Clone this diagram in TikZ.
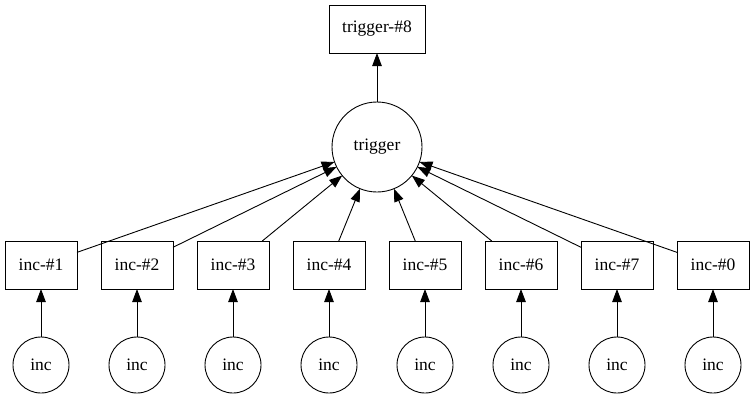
\documentclass[tikz,border=0pt]{standalone}
\usepackage{fontspec}
\setmainfont{Liberation Serif}
\usepackage{tikz}
\usetikzlibrary{shapes,arrows.meta,positioning}

\begin{document}
\begin{tikzpicture}[x=1pt, y=1pt, node distance=24pt, line width=0.9pt]
        \tikzstyle{block} = [rectangle, draw, text centered, minimum width=72pt, minimum height=48pt, inner sep=0pt, outer sep=0pt, font=\fontsize{17.5}{20}\selectfont]
        \tikzstyle{state} = [circle, draw, text centered, minimum size=56pt, inner sep=0pt, outer sep=0pt, font=\fontsize{17.5}{20}\selectfont]
        \tikzstyle{line} = [draw, -{Triangle[length=13pt, width=9.5pt]}]
        \useasboundingbox (0,0) rectangle (755,400);

        \node [block, minimum width=96pt] (trig8) at (377,371) {trigger-\#8};
        \node [state, minimum size=90pt] (trig) at (377,253) {trigger};

        \node [block] (inc1) at (41,135) {inc-\#1};
        \node [block, right=of inc1] (inc2) {inc-\#2};
        \node [block, right=of inc2] (inc3) {inc-\#3};
        \node [block, right=of inc3] (inc4) {inc-\#4};
        \node [block, right=of inc4] (inc5) {inc-\#5};
        \node [block, right=of inc5] (inc6) {inc-\#6};
        \node [block, right=of inc6] (inc7) {inc-\#7};
        \node [block, right=of inc7] (inc0) {inc-\#0};

        \node [state, below=48pt of inc1] (src1) {inc};
        \node [state, below=48pt of inc2] (src2) {inc};
        \node [state, below=48pt of inc3] (src3) {inc};
        \node [state, below=48pt of inc4] (src4) {inc};
        \node [state, below=48pt of inc5] (src5) {inc};
        \node [state, below=48pt of inc6] (src6) {inc};
        \node [state, below=48pt of inc7] (src7) {inc};
        \node [state, below=48pt of inc0] (src0) {inc};

        % sources to counters
        \path [line] (src1) -- (inc1);
        \path [line] (src2) -- (inc2);
        \path [line] (src3) -- (inc3);
        \path [line] (src4) -- (inc4);
        \path [line] (src5) -- (inc5);
        \path [line] (src6) -- (inc6);
        \path [line] (src7) -- (inc7);
        \path [line] (src0) -- (inc0);

        % counters to trigger
        \path [line] (inc1) -- (trig);
        \path [line] (inc2) -- (trig);
        \path [line] (inc3) -- (trig);
        \path [line] (inc4) -- (trig);
        \path [line] (inc5) -- (trig);
        \path [line] (inc6) -- (trig);
        \path [line] (inc7) -- (trig);
        \path [line] (inc0) -- (trig);

        \path [line] (trig) -- (trig8);
    \end{tikzpicture}
\end{document}
